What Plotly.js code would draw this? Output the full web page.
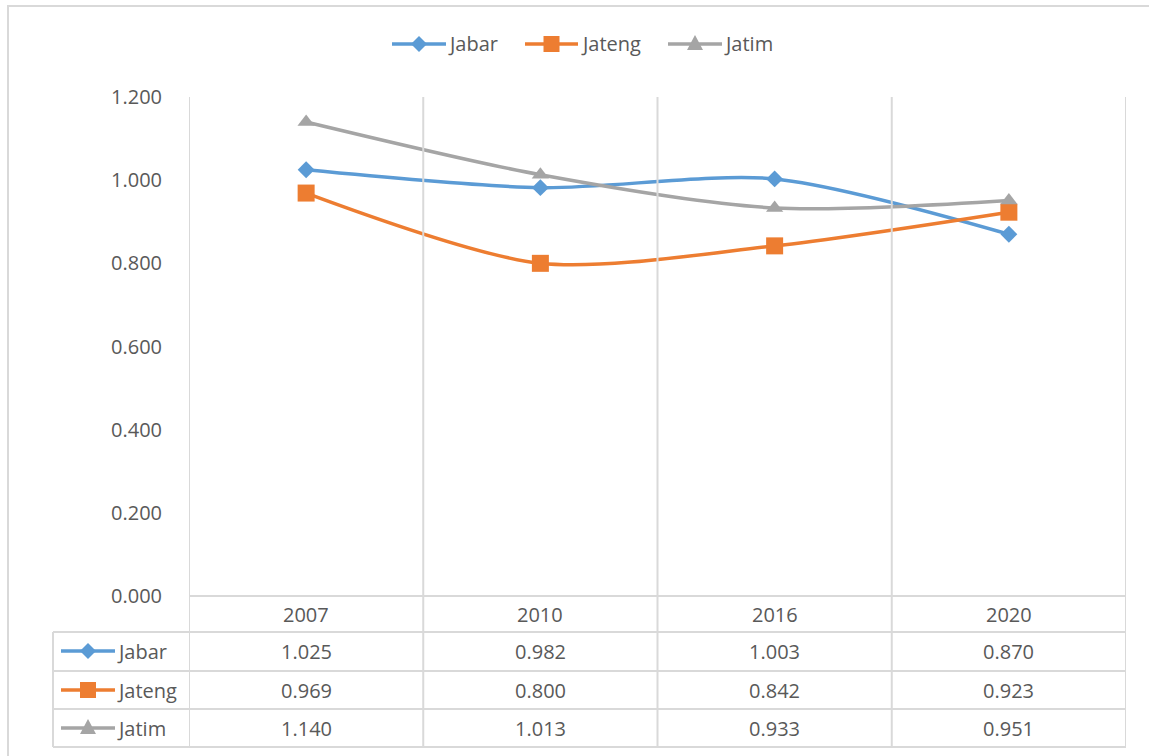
<!DOCTYPE html>
<html>
<head>
<meta charset="utf-8">
<script src="https://cdn.plot.ly/plotly-3.0.1.min.js"></script>
<style>html,body{margin:0;padding:0;background:#fff;}#chart{width:1149px;height:756px;}</style>
</head>
<body>
<div id="chart"></div>
<script>
// ---- data ----
const years = ["2007", "2010", "2016", "2020"];
const seriesNames = ["Jabar", "Jateng", "Jatim"];
const jabar = [1.025, 0.982, 1.003, 0.870];
const jateng = [0.969, 0.800, 0.842, 0.923];
const jatim = [1.140, 1.013, 0.933, 0.951];
const yTicks = [0, 0.2, 0.4, 0.6, 0.8, 1.0, 1.2];

// ---- styles ----
const colors = ["#5B9BD5", "#ED7D31", "#A5A5A5"];
const symbols = ["diamond", "square", "triangle-up"];
const msizes = [13, 17, 15];
const W = 1149, H = 756;
const X = p => p / W;
const Y = p => 1 - p / H;
const FONT = "Open Sans, Noto Sans, sans-serif";
const FS = 20;
const TXT = "#595959";
const GRID = "#D9D9D9";
const seriesData = [jabar, jateng, jatim];
const idx = years.map((_, i) => i);

const traces = seriesData.map((vals, s) => ({
  type: "scatter", mode: "lines+markers",
  x: idx, y: vals, name: seriesNames[s],
  line: {color: colors[s], width: 3.5, shape: "spline", smoothing: 0.8},
  marker: {color: colors[s], symbol: symbols[s], size: msizes[s]},
  cliponaxis: false, showlegend: false
}));

const plotL = 189, plotR = 1126, plotT = 97, plotB = 596;
const rowLines = [632, 671, 709, 747];
const rowCenters = [651, 690, 728];
const headerCenter = 614;
const tableLeft = 53;

const shapes = [];
const annotations = [];
// outer border
shapes.push({type: "rect", xref: "paper", yref: "paper", x0: X(8), x1: 1.02, y0: Y(6), y1: -0.05,
  line: {color: GRID, width: 2}, fillcolor: "rgba(0,0,0,0)"});
// vertical grid/table lines at category boundaries
for (let i = 0; i <= years.length; i++) {
  shapes.push({type: "line", xref: "x", yref: "paper", x0: i - 0.5, x1: i - 0.5, y0: Y(plotT), y1: Y(rowLines[3]),
    line: {color: GRID, width: 2}});
}
// horizontal line at zero
shapes.push({type: "line", xref: "paper", yref: "paper", x0: X(plotL), x1: X(plotR), y0: Y(plotB), y1: Y(plotB), line: {color: GRID, width: 2}});
// table row lines
rowLines.forEach(r => shapes.push({type: "line", xref: "paper", yref: "paper", x0: X(tableLeft), x1: X(plotR), y0: Y(r), y1: Y(r), line: {color: GRID, width: 2}}));
// table left border
shapes.push({type: "line", xref: "paper", yref: "paper", x0: X(tableLeft), x1: X(tableLeft), y0: Y(rowLines[0]), y1: Y(rowLines[3]), line: {color: GRID, width: 2}});

// legend key drawer (line + marker + label)
function key(s, x0, x1, cy, tx) {
  shapes.push({type: "line", xref: "paper", yref: "paper", x0: X(x0), x1: X(x1), y0: Y(cy), y1: Y(cy), line: {color: colors[s], width: 3.5}});
  const cx = (x0 + x1) / 2;
  let path;
  if (s === 0) path = `M${X(cx-8)},${Y(cy)} L${X(cx)},${Y(cy-8)} L${X(cx+8)},${Y(cy)} L${X(cx)},${Y(cy+8)} Z`;
  else if (s === 1) path = `M${X(cx-8)},${Y(cy-8)} L${X(cx+8)},${Y(cy-8)} L${X(cx+8)},${Y(cy+8)} L${X(cx-8)},${Y(cy+8)} Z`;
  else path = `M${X(cx-8)},${Y(cy+6)} L${X(cx)},${Y(cy-9)} L${X(cx+8)},${Y(cy+6)} Z`;
  shapes.push({type: "path", xref: "paper", yref: "paper", path: path, fillcolor: colors[s], line: {color: colors[s], width: 0}});
  annotations.push({xref: "paper", yref: "paper", x: X(tx), y: Y(cy), text: seriesNames[s], showarrow: false,
    font: {family: FONT, size: FS, color: TXT}, xanchor: "left", yanchor: "middle", borderpad: 0});
}
// top legend
key(0, 392, 446, 44, 447);
key(1, 525, 578, 44, 580);
key(2, 668, 722, 44, 723);
// table legend keys
rowCenters.forEach((cy, s) => key(s, 61, 115, cy, 116));

years.forEach((yr, j) => annotations.push({xref: "x", yref: "paper", x: j, y: Y(headerCenter), text: yr, showarrow: false,
  font: {family: FONT, size: FS, color: TXT}, xanchor: "center", yanchor: "middle"}));
seriesData.forEach((vals, s) => {
  vals.forEach((v, j) => annotations.push({xref: "x", yref: "paper", x: j, y: Y(rowCenters[s]), text: v.toFixed(3), showarrow: false,
    font: {family: FONT, size: FS, color: TXT}, xanchor: "center", yanchor: "middle"}));
});

const layout = {
  width: W, height: H,
  margin: {l: 0, r: 0, t: 0, b: 0},
  paper_bgcolor: "#fff", plot_bgcolor: "#fff",
  showlegend: false,
  xaxis: {domain: [X(plotL), X(plotR)], range: [-0.5, years.length - 0.5], showgrid: false, zeroline: false,
    showticklabels: false, ticks: "", showline: false, fixedrange: true},
  yaxis: {domain: [Y(plotB), Y(plotT)], range: [0, 1.2], tickvals: yTicks, tickformat: ".3f",
    showgrid: false, zeroline: false, showline: false, ticks: "outside", ticklen: 22, tickcolor: "rgba(0,0,0,0)",
    tickfont: {family: FONT, size: FS, color: TXT}, fixedrange: true},
  shapes: shapes,
  annotations: annotations
};

Plotly.newPlot("chart", traces, layout, {displayModeBar: false, staticPlot: true});
</script>
</body>
</html>
